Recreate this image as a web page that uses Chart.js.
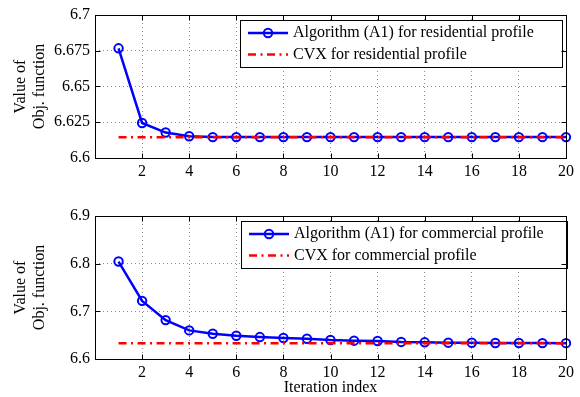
<!DOCTYPE html>
<html>
<head>
<meta charset="utf-8">
<script src="https://cdn.jsdelivr.net/npm/chart.js@4/dist/chart.umd.min.js"></script>
<style>
html,body{margin:0;padding:0;background:#fff}
#wrap{position:relative;width:580px;height:397px}
canvas{position:absolute;left:0}
</style>
</head>
<body>
<div id="wrap">
<canvas id="topChart" width="580" height="180" style="top:0"></canvas>
<canvas id="bottomChart" width="580" height="217" style="top:180px"></canvas>
</div>
<script>

/* =========================
   DATA
========================= */

let iterations = [1,2,3,4,5,6,7,8,9,10,11,12,13,14,15,16,17,18,19,20]

let residential = [6.6767,6.6245,6.6178,6.6152,6.6146,6.6146,6.6146,6.6146,6.6146,6.6146,
6.6146,6.6146,6.6146,6.6146,6.6146,6.6146,6.6146,6.6146,6.6146,6.6146]

let commercial = [6.8045,6.7220,6.6816,6.6600,6.6530,6.6488,6.6460,6.6440,6.6425,6.6398,
6.6384,6.6377,6.6358,6.6350,6.6342,6.6341,6.6336,6.6335,6.6334,6.6333]

let cvxResidential = 6.6145
let cvxCommercial = 6.6330
let cvxRange = [1,20]

let xTicks = [2,4,6,8,10,12,14,16,18,20]
let yTicksTop = [6.6,6.625,6.65,6.675,6.7]
let yTicksBottom = [6.6,6.7,6.8,6.9]

let labelsTop = ["Algorithm (A1) for residential profile","CVX for residential profile"]
let labelsBottom = ["Algorithm (A1) for commercial profile","CVX for commercial profile"]

const FONT = "Liberation Serif, Times New Roman, serif"


/* =========================
   PLUGINS
========================= */

// legend box drawn over the grid, matlab style
const boxLegend = {
id:"boxLegend",
afterDatasetsDraw(chart,args,opts){
let ctx = chart.ctx
let b = opts.box
ctx.save()
ctx.fillStyle="#fff"
ctx.fillRect(b.left,b.top,b.width,b.height)
ctx.strokeStyle="#000"
ctx.lineWidth=1
ctx.strokeRect(b.left+0.5,b.top+0.5,b.width,b.height)

chart.data.datasets.forEach((ds,i)=>{
let y = b.top + 13 + i*21.5
ctx.strokeStyle=ds.borderColor
ctx.lineWidth=ds.borderWidth
ctx.setLineDash(ds.borderDash || [])
ctx.beginPath()
ctx.moveTo(b.left+8,y)
ctx.lineTo(b.left+48,y)
ctx.stroke()
ctx.setLineDash([])
if(ds.pointRadius>0){
ctx.lineWidth=ds.pointBorderWidth
ctx.beginPath()
ctx.arc(b.left+28,y,ds.pointRadius,0,Math.PI*2)
ctx.stroke()
}
ctx.fillStyle="#000"
ctx.font="16px "+FONT
ctx.textBaseline="middle"
ctx.textAlign="left"
ctx.fillText(ds.label,b.left+53,y)
})
ctx.restore()
}
}

// axes box with inward tick marks on all four sides
const axesBox = {
id:"axesBox",
afterDraw(chart){
let ctx = chart.ctx
let a = chart.chartArea
let l = Math.round(a.left)+0.5, r = Math.round(a.right)+0.5
let t = Math.round(a.top)+0.5, btm = Math.round(a.bottom)+0.5
ctx.save()
ctx.strokeStyle="#000"
ctx.lineWidth=1
ctx.strokeRect(l,t,r-l,btm-t)
ctx.beginPath()
chart.scales.x.ticks.forEach(tk=>{
let px = Math.round(chart.scales.x.getPixelForValue(tk.value))+0.5
ctx.moveTo(px,btm); ctx.lineTo(px,btm-5)
ctx.moveTo(px,t); ctx.lineTo(px,t+5)
})
chart.scales.y.ticks.forEach(tk=>{
let py = Math.round(chart.scales.y.getPixelForValue(tk.value))+0.5
ctx.moveTo(l,py); ctx.lineTo(l+5,py)
ctx.moveTo(r,py); ctx.lineTo(r-5,py)
})
ctx.stroke()
ctx.restore()
}
}


/* =========================
   CHART BUILDER
========================= */

function makeChart(id,series,cvx,yTicks,labels,cfg){

let ctx = document.getElementById(id).getContext("2d")

return new Chart(ctx,{
type:"line",
data:{
datasets:[
{
label:labels[0],
data:iterations.map((x,i)=>({x:x,y:series[i]})),
borderColor:"#0000ff",
borderWidth:2.5,
pointRadius:4.2,
pointHoverRadius:4.2,
pointBorderWidth:2,
pointBackgroundColor:"rgba(0,0,0,0)",
pointBorderColor:"#0000ff",
tension:0,
clip:false,
order:1
},
{
label:labels[1],
data:cvxRange.map(x=>({x:x,y:cvx})),
borderColor:"#ff0000",
borderWidth:2.5,
borderDash:[8,4.5,2,4.5],
pointRadius:0,
tension:0,
clip:false,
order:0
}
]
},
options:{
responsive:false,
animation:false,
devicePixelRatio:1,
layout:{padding:{left:0,right:14,top:cfg.top,bottom:0}},
plugins:{
legend:{display:false},
tooltip:{enabled:false},
boxLegend:{box:cfg.legend}
},
scales:{
x:{
type:"linear",
min:0,
max:20,
afterBuildTicks:s=>{s.ticks = xTicks.map(v=>({value:v}))},
afterFit:s=>{s.height = cfg.xHeight},
ticks:{
color:"#000",
font:{family:FONT,size:16},
padding:4,
maxRotation:0,
autoSkip:false,
callback:v=>String(v)
},
grid:{color:"#8c8c8c",lineWidth:1,drawTicks:false},
border:{display:false,dash:[1,3]},
title:{
display:!!cfg.xTitle,
text:cfg.xTitle || "",
color:"#000",
font:{family:FONT,size:16},
padding:{top:0,bottom:0}
}
},
y:{
type:"linear",
min:yTicks[0],
max:yTicks[yTicks.length-1],
afterBuildTicks:s=>{s.ticks = yTicks.map(v=>({value:v}))},
afterFit:s=>{s.width = 95},
ticks:{
color:"#000",
font:{family:FONT,size:16},
padding:5,
callback:v=>String(v)
},
grid:{color:"#8c8c8c",lineWidth:1,drawTicks:false},
border:{display:false,dash:[1,3]},
title:{
display:true,
text:["Value of","Obj. function"],
color:"#000",
font:{family:FONT,size:16},
padding:{top:11,bottom:0}
}
}
}
},
plugins:[boxLegend,axesBox]
})

}

makeChart("topChart",residential,cvxResidential,yTicksTop,labelsTop,{
top:15,
xHeight:22,
legend:{left:240,top:20,width:322,height:47}
})

makeChart("bottomChart",commercial,cvxCommercial,yTicksBottom,labelsBottom,{
top:36,
xHeight:38,
xTitle:"Iteration index",
legend:{left:241,top:41,width:326,height:47}
})

</script>
</body>
</html>
